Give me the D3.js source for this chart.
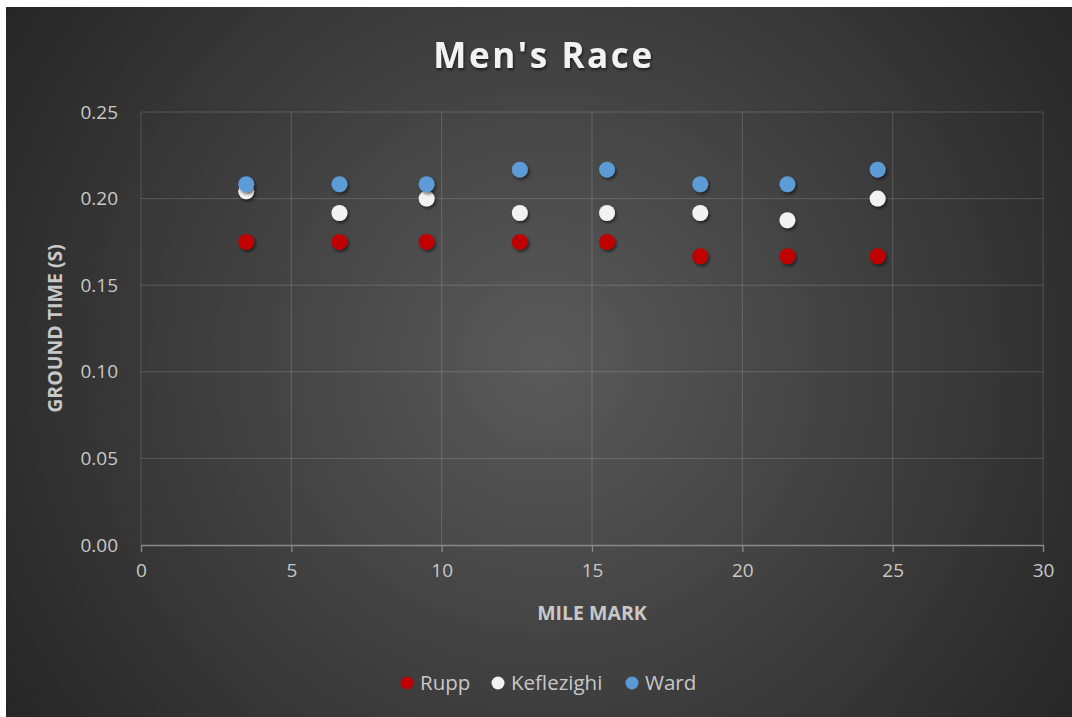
<!DOCTYPE html>
<html>
<head>
<meta charset="utf-8">
<script src="https://cdn.jsdelivr.net/npm/d3@7/dist/d3.min.js"></script>
<style>
  html, body { margin: 0; padding: 0; background: #ffffff; }
  svg { display: block; }
  text { font-family: "Open Sans", "Noto Sans", sans-serif; }
</style>
</head>
<body>
<svg id="chart" width="1072" height="717"></svg>
<script>
// Mile marks where ground contact time was measured
const mileMarks = [3.5, 6.6, 9.5, 12.6, 15.5, 18.6, 21.5, 24.5];

// Ground time (seconds) per runner
const rupp       = [0.1750, 0.1750, 0.1750, 0.1750, 0.1750, 0.1667, 0.1667, 0.1667];
const keflezighi = [0.2042, 0.1917, 0.2000, 0.1917, 0.1917, 0.1917, 0.1875, 0.2000];
const ward       = [0.2083, 0.2083, 0.2083, 0.2167, 0.2167, 0.2083, 0.2083, 0.2167];

const seriesNames  = ["Rupp", "Keflezighi", "Ward"];
const seriesColors = ["#c00000", "#f2f2f2", "#5b9bd5"];

const xTicks = [0, 5, 10, 15, 20, 25, 30];
const yTicks = [0.00, 0.05, 0.10, 0.15, 0.20, 0.25];

const series = [rupp, keflezighi, ward].map((vals, i) => ({
  name: seriesNames[i],
  color: seriesColors[i],
  points: vals.map((v, j) => ({ x: mileMarks[j], y: v }))
}));

const svg = d3.select("#chart");
const W = 1072, H = 717;
const plot = { left: 141, right: 1043, top: 112, bottom: 545 };

const defs = svg.append("defs");
const bg = defs.append("radialGradient")
  .attr("id", "bgGrad")
  .attr("gradientUnits", "userSpaceOnUse")
  .attr("cx", 545).attr("cy", 362).attr("r", 640);
bg.append("stop").attr("offset", "0%").attr("stop-color", "#5a5a5a");
bg.append("stop").attr("offset", "100%").attr("stop-color", "#262626");

const shadow = defs.append("filter").attr("id", "dotShadow")
  .attr("x", "-60%").attr("y", "-60%").attr("width", "220%").attr("height", "220%");
shadow.append("feDropShadow")
  .attr("dx", 1.5).attr("dy", 2).attr("stdDeviation", 1.8)
  .attr("flood-color", "#000").attr("flood-opacity", 0.55);

const titleShadow = defs.append("filter").attr("id", "titleShadow")
  .attr("x", "-10%").attr("y", "-30%").attr("width", "120%").attr("height", "160%");
titleShadow.append("feDropShadow")
  .attr("dx", 1).attr("dy", 2).attr("stdDeviation", 1.5)
  .attr("flood-color", "#000").attr("flood-opacity", 0.6);

// Chart background
svg.append("rect")
  .attr("x", 6).attr("y", 7)
  .attr("width", W - 6).attr("height", H - 7)
  .attr("fill", "url(#bgGrad)");

const x = d3.scaleLinear().domain([0, 30]).range([plot.left, plot.right]);
const y = d3.scaleLinear().domain([0, 0.25]).range([plot.bottom, plot.top]);

// Gridlines
const grid = svg.append("g");
grid.selectAll("line.h").data(yTicks.slice(1)).join("line")
  .attr("x1", plot.left).attr("x2", plot.right)
  .attr("y1", d => y(d)).attr("y2", d => y(d))
  .attr("stroke", "#ffffff").attr("stroke-opacity", 0.16).attr("stroke-width", 1);
grid.selectAll("line.v").data(xTicks.slice(1)).join("line")
  .attr("y1", plot.top).attr("y2", plot.bottom)
  .attr("x1", d => x(d)).attr("x2", d => x(d))
  .attr("stroke", "#ffffff").attr("stroke-opacity", 0.16).attr("stroke-width", 1);

// Y axis line (left edge of plot)
svg.append("line")
  .attr("x1", plot.left).attr("x2", plot.left)
  .attr("y1", plot.top).attr("y2", plot.bottom)
  .attr("stroke", "#ffffff").attr("stroke-opacity", 0.16);

// X axis
const xAxis = svg.append("g")
  .attr("transform", `translate(0,${plot.bottom})`)
  .call(d3.axisBottom(x).tickValues(xTicks).tickSize(7).tickSizeOuter(0).tickPadding(12));
xAxis.select(".domain").attr("stroke", "#8a8a8a").attr("stroke-width", 1.3);
xAxis.selectAll(".tick line").attr("stroke", "#8a8a8a").attr("stroke-width", 1.3);
xAxis.selectAll(".tick text")
  .attr("fill", "#c8c8c8").style("font-size", "19px")
  .style("font-family", "'Open Sans', sans-serif");

// Y axis labels
const yAxis = svg.append("g")
  .attr("transform", `translate(${plot.left},0)`)
  .call(d3.axisLeft(y).tickValues(yTicks).tickFormat(d3.format(".2f")).tickSize(0).tickPadding(23));
yAxis.select(".domain").remove();
yAxis.selectAll(".tick text")
  .attr("fill", "#c8c8c8").style("font-size", "19px")
  .style("font-family", "'Open Sans', sans-serif");

// Axis titles
svg.append("text")
  .attr("x", (plot.left + plot.right) / 2).attr("y", 620)
  .attr("text-anchor", "middle")
  .attr("fill", "#c8c8c8").style("font-size", "19.5px").style("font-weight", "700")
  .text("MILE MARK");

svg.append("text")
  .attr("transform", `translate(62,${(plot.top + plot.bottom) / 2}) rotate(-90)`)
  .attr("text-anchor", "middle")
  .attr("fill", "#c8c8c8").style("font-size", "19.5px").style("font-weight", "700")
  .text("GROUND TIME (S)");

// Title
svg.append("text")
  .attr("x", 544).attr("y", 68)
  .attr("text-anchor", "middle")
  .attr("fill", "#f2f2f2").style("font-size", "35px").style("font-weight", "700")
  .style("letter-spacing", "2.6px")
  .attr("filter", "url(#titleShadow)")
  .text("Men's Race");

// Points
series.forEach(s => {
  svg.append("g").attr("filter", "url(#dotShadow)")
    .selectAll("circle").data(s.points).join("circle")
    .attr("cx", d => x(d.x)).attr("cy", d => y(d.y))
    .attr("r", 8)
    .attr("fill", s.color);
});

// Legend
const legendItems = [
  { name: seriesNames[0], color: seriesColors[0], cx: 407 },
  { name: seriesNames[1], color: seriesColors[1], cx: 498 },
  { name: seriesNames[2], color: seriesColors[2], cx: 632 }
];
const legend = svg.append("g");
legendItems.forEach(it => {
  legend.append("circle")
    .attr("cx", it.cx).attr("cy", 683).attr("r", 6.5)
    .attr("fill", it.color);
  legend.append("text")
    .attr("x", it.cx + 13).attr("y", 690)
    .attr("fill", "#c8c8c8").style("font-size", "20.5px")
    .text(it.name);
});
</script>
</body>
</html>
